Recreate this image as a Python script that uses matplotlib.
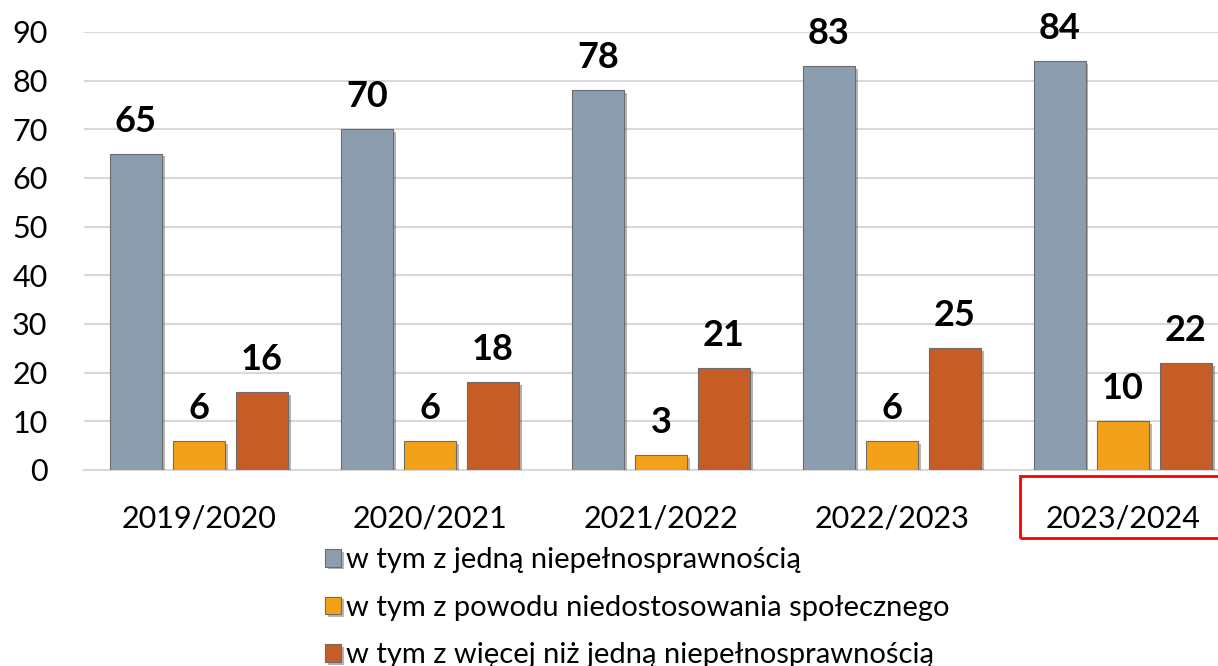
import numpy as np
import matplotlib.pyplot as plt
import matplotlib.patheffects as pe
from matplotlib.patches import Rectangle

years = ['2019/2020', '2020/2021', '2021/2022', '2022/2023', '2023/2024']
jedna = [65, 70, 78, 83, 84]
niedostosowanie = [6, 6, 3, 6, 10]
wiecej = [16, 18, 21, 25, 22]

series = [
    ('w tym z jedną niepełnosprawnością', jedna, '#8D9DB0'),
    ('w tym z powodu niedostosowania społecznego', niedostosowanie, '#F2A118'),
    ('w tym z więcej niż jedną niepełnosprawnością', wiecej, '#C75D26'),
]

plt.rcParams['font.family'] = ['Lato', 'DejaVu Sans']

fig = plt.figure(figsize=(12.18, 6.66), dpi=100)
ax = fig.add_axes([0.0686, 0.2943, 0.948, 0.6577])

x = np.arange(len(years))
w = 0.225
step = 0.273
shadow = [pe.SimplePatchShadow(offset=(2, -2), alpha=0.35), pe.Normal()]
handles = []
for i, (name, vals, col) in enumerate(series):
    bars = ax.bar(x + (i - 1) * step, vals, w, color=col, edgecolor='#6b6b6b',
                  linewidth=0.8, label=name, zorder=3)
    for b in bars:
        b.set_path_effects(shadow)
    handles.append(bars)
    for xi, v in zip(x + (i - 1) * step, vals):
        ax.text(xi, v + 3.3, str(v), ha='center', va='bottom', fontsize=26,
                fontweight='bold', clip_on=False)

ax.set_xlim(-0.5, 4.5)
ax.set_ylim(0, 90)
ax.set_yticks(range(0, 91, 10))
ax.set_xticks(x)
ax.set_xticklabels(years)
ax.tick_params(axis='both', length=0, labelsize=22)
ax.tick_params(axis='y', pad=26)
ax.tick_params(axis='x', pad=25)
ax.grid(axis='y', color='#D9D9D9', linewidth=1.5, zorder=0)
for s in ['top', 'right', 'left']:
    ax.spines[s].set_visible(False)
ax.spines['bottom'].set_color('#D9D9D9')
ax.spines['bottom'].set_linewidth(1.5)

fig.legend(handles=handles, loc='upper left', bbox_to_anchor=(0.2575, 0.196),
           frameon=False, fontsize=21, handlelength=0.55, handleheight=0.55,
           handletextpad=0.15, labelspacing=0.74, borderaxespad=0)

fig.patches.append(Rectangle((1020 / 1218, 1 - 538 / 666), 0.2, 62 / 666,
                             transform=fig.transFigure, fill=False,
                             edgecolor='#FF0000', linewidth=2))

fig.savefig('out.png', dpi=100)
